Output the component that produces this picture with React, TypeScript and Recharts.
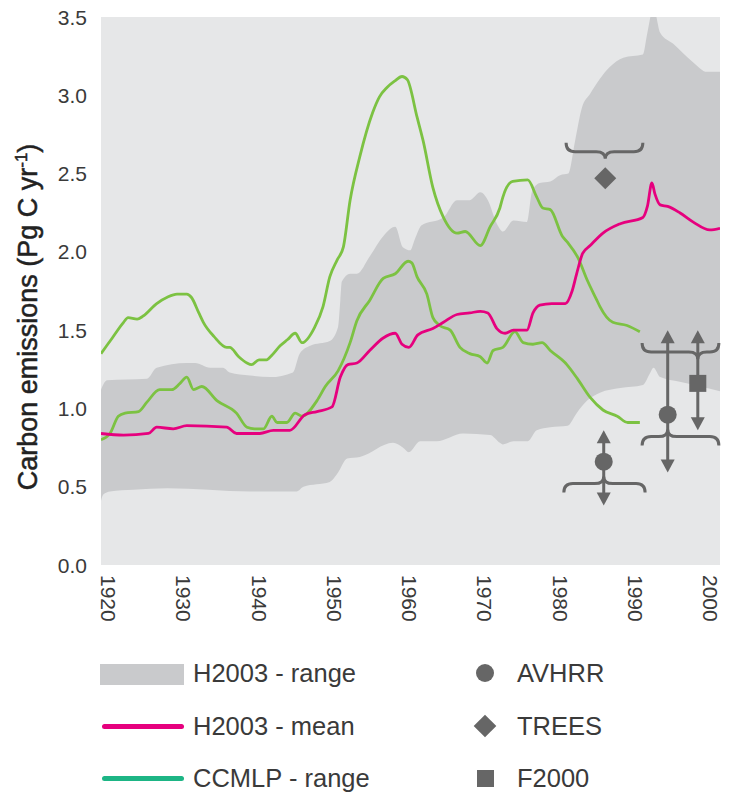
import React from "react";
import {
  ComposedChart,
  Area,
  Line,
  Scatter,
  XAxis,
  YAxis,
  CartesianGrid,
  ReferenceLine,
} from "recharts";

const FONT = '"Liberation Sans", Arial, sans-serif';
const TEXT = "#3a3a3a";
const PLOT_BG = "#e6e7e8";
const BAND = "#c9cacc";
const PINK = "#e6007e";
const GREEN = "#7cc242";
const TEAL = "#1db585";
const MARK = "#666666";

const xTicks = [1920, 1930, 1940, 1950, 1960, 1970, 1980, 1990, 2000];
const yTicks = [0, 0.5, 1, 1.5, 2, 2.5, 3, 3.5];

// H2003 range, upper edge [year, Pg C/yr]
const h2003Upper: [number, number][] = [
  [1920, 1.12], [1920.8, 1.18], [1926.1, 1.19], [1927.4, 1.26], [1931.4, 1.29],
  [1932.5, 1.29], [1934.5, 1.26], [1936.2, 1.26], [1937.1, 1.23], [1939.8, 1.21],
  [1942.5, 1.2], [1945.5, 1.23], [1946.4, 1.35], [1947.8, 1.4], [1950.4, 1.43],
  [1951.5, 1.52], [1951.8, 1.69], [1952, 1.81], [1953.1, 1.86], [1954, 1.86],
  [1955.7, 1.97], [1957.5, 2.1], [1959.1, 2.16], [1960.1, 2.03], [1961.1, 2.01],
  [1961.7, 2.08], [1962.6, 2.17], [1965.5, 2.22], [1967.3, 2.33], [1969, 2.33],
  [1970.4, 2.38], [1971.4, 2.33], [1972.6, 2.18], [1973.4, 2.13], [1974.8, 2.2],
  [1976.6, 2.19], [1977.3, 2.39], [1978.3, 2.44], [1979.7, 2.45], [1981, 2.49],
  [1982.1, 2.5], [1983, 2.71], [1983.9, 2.92], [1985, 3.01], [1987.6, 3.18],
  [1989.4, 3.24], [1992, 3.26], [1992.6, 3.4], [1993.4, 3.56], [1994.3, 3.4],
  [1996, 3.33], [1998.7, 3.21], [2000.5, 3.15], [2002.25, 3.15],
];

// H2003 range, lower edge
const h2003Lower: [number, number][] = [
  [1920, 0.41], [1920.3, 0.45], [1921.2, 0.47], [1924.3, 0.48], [1928.8, 0.49],
  [1939.8, 0.47], [1946, 0.47], [1946.9, 0.5], [1950.4, 0.53], [1951.5, 0.59],
  [1952.7, 0.68], [1954.4, 0.69], [1958.8, 0.78], [1960.1, 0.75], [1960.9, 0.72],
  [1962.4, 0.79], [1964.6, 0.79], [1968.1, 0.84], [1971.7, 0.83], [1973, 0.78],
  [1973.4, 0.77], [1974.8, 0.79], [1976.7, 0.79], [1977.9, 0.86], [1979.7, 0.88],
  [1982, 0.89], [1983.2, 0.97], [1984.6, 1.05], [1986.3, 1.1], [1989, 1.13],
  [1992, 1.15], [1993, 1.23], [1993.4, 1.26], [1994.3, 1.2], [1996.9, 1.17],
  [1999.6, 1.14], [2002.25, 1.11],
];

// H2003 mean
const h2003Mean: [number, number][] = [
  [1920, 0.84], [1923, 0.83], [1926.3, 0.84], [1927.4, 0.88], [1929.6, 0.87],
  [1931.4, 0.89], [1936.7, 0.88], [1938, 0.84], [1941.1, 0.84], [1942.9, 0.86],
  [1945.1, 0.86], [1947.1, 0.96], [1948.7, 0.98], [1950.7, 1.01], [1951.8, 1.2],
  [1952.8, 1.28], [1954, 1.29], [1955.7, 1.37], [1957.5, 1.45], [1959.1, 1.48],
  [1960, 1.41], [1960.9, 1.39], [1962.1, 1.47], [1964.1, 1.51], [1965.5, 1.55],
  [1967.3, 1.6], [1969, 1.61], [1970.4, 1.62], [1971.4, 1.61], [1972.6, 1.51],
  [1973.7, 1.48], [1974.8, 1.5], [1976.6, 1.5], [1977.4, 1.61], [1978.3, 1.66],
  [1979.9, 1.67], [1981.7, 1.67], [1982.6, 1.75], [1983.2, 1.86], [1984, 1.99],
  [1985, 2.04], [1986.7, 2.12], [1989, 2.18], [1992, 2.22], [1992.6, 2.29],
  [1993.2, 2.44], [1993.6, 2.37], [1994.3, 2.3], [1995.3, 2.29], [1996.9, 2.25],
  [1998.7, 2.19], [2000.9, 2.14], [2002.25, 2.15],
];

// CCMLP range, upper model
const ccmlpUpper: [number, number][] = [
  [1920, 1.35], [1921.5, 1.45], [1923, 1.55], [1923.6, 1.58], [1924.8, 1.57],
  [1925.6, 1.59], [1927.4, 1.67], [1928.8, 1.71], [1930.1, 1.73], [1931.4, 1.73],
  [1932, 1.71], [1933, 1.61], [1933.6, 1.55], [1935, 1.46], [1936.7, 1.39],
  [1937.1, 1.39], [1938.3, 1.33], [1939.4, 1.29], [1940, 1.28], [1941, 1.31],
  [1942, 1.31], [1942.7, 1.34], [1943.8, 1.4], [1944.8, 1.44], [1945.8, 1.48],
  [1946.7, 1.42], [1948.4, 1.52], [1949.5, 1.65], [1950.4, 1.84], [1951.4, 1.95],
  [1952.2, 2.03], [1953.1, 2.33], [1954.4, 2.61], [1956.1, 2.89], [1957, 2.99],
  [1958, 3.05], [1959, 3.09], [1960, 3.12], [1960.7, 3.1], [1962, 2.86],
  [1962.8, 2.71], [1964.1, 2.41], [1965.5, 2.22], [1967.3, 2.12], [1968.4, 2.13],
  [1970.4, 2.04], [1971.7, 2.16], [1973, 2.28], [1973.4, 2.35], [1974.7, 2.45],
  [1976.7, 2.46], [1977.9, 2.35], [1978.7, 2.28], [1979.7, 2.27], [1981.3, 2.1],
  [1982, 2.06], [1983.4, 1.96], [1984.6, 1.82], [1985.9, 1.69], [1986.3, 1.65],
  [1988, 1.55], [1989.9, 1.53], [1991.6, 1.49],
];

// CCMLP range, lower model
const ccmlpLower: [number, number][] = [
  [1920, 0.8], [1921.2, 0.84], [1922.3, 0.95], [1923.2, 0.97], [1925, 0.98],
  [1926.1, 1.04], [1927.8, 1.12], [1929.4, 1.12], [1930.5, 1.16], [1931.4, 1.2],
  [1932.3, 1.12], [1933.4, 1.14], [1935.4, 1.05], [1938, 0.97], [1939.4, 0.88],
  [1940.4, 0.87], [1941.6, 0.87], [1942.7, 0.95], [1943.4, 0.91], [1944.7, 0.91],
  [1945.8, 0.97], [1946.7, 0.95], [1948.7, 1.05], [1949.8, 1.14], [1951.5, 1.24],
  [1953.1, 1.42], [1954, 1.56], [1955.7, 1.69], [1957.5, 1.83], [1959.1, 1.86],
  [1960.8, 1.94], [1961.3, 1.93], [1962, 1.84], [1963.3, 1.73], [1964.1, 1.58],
  [1965, 1.53], [1966.4, 1.5], [1967.7, 1.39], [1969, 1.35], [1970.4, 1.33],
  [1971.3, 1.29], [1972.1, 1.37], [1973.4, 1.39], [1975, 1.49], [1976.1, 1.42],
  [1977.4, 1.41], [1978.6, 1.42], [1979.7, 1.37], [1981.9, 1.28], [1983.3, 1.19],
  [1985, 1.07], [1986.7, 0.99], [1988.6, 0.95], [1990, 0.91], [1991.6, 0.91],
];

// point estimates with their uncertainty (lo / hi arrow tips)
const avhrr = [
  { year: 1986.8, v: 0.66, lo: 0.38, hi: 0.86 },
  { year: 1995.3, v: 0.96, lo: 0.59, hi: 1.5 },
];
const trees = [{ year: 1987, v: 2.47 }];
const f2000 = [{ year: 1999.3, v: 1.16, lo: 0.86, hi: 1.5 }];

// period braces: from/to year, level, year the tip points at, dir 1 = tip up
const braces = [
  { from: 1981.5, to: 1992.3, level: 0.52, tip: 1986.8, dir: 1 },
  { from: 1981.8, to: 1992.0, level: 2.64, tip: 1987.0, dir: -1 },
  { from: 1991.9, to: 2002.1, level: 0.82, tip: 1995.3, dir: 1 },
  { from: 1991.9, to: 2002.1, level: 1.36, tip: 1999.3, dir: -1 },
];

const toRows = (pts: [number, number][]) => pts.map(([year, v]) => ({ year, v }));

function Brace(props: any) {
  const { x1, y1, x2, t, dir } = props;
  const y = y1;
  const xt = x1 + (x2 - x1) * t;
  const e = 9 * dir;
  const r = 9;
  const d =
    `M${x1},${y + e} Q${x1},${y} ${x1 + r},${y} L${xt - r},${y} ` +
    `Q${xt},${y} ${xt},${y - e * 0.8} Q${xt},${y} ${xt + r},${y} ` +
    `L${x2 - r},${y} Q${x2},${y} ${x2},${y + e}`;
  return <path d={d} fill="none" stroke={MARK} strokeWidth={3} />;
}

function Arrow(props: any) {
  // x1,y1 = low tip (bottom), x2,y2 = high tip (top)
  const { x1, y1, x2, y2 } = props;
  const hw = 7;
  const hh = 13;
  return (
    <g>
      <line x1={x1} y1={y1 - hh + 1} x2={x2} y2={y2 + hh - 1} stroke={MARK} strokeWidth={3} />
      <path d={`M${x2},${y2} L${x2 - hw},${y2 + hh} L${x2 + hw},${y2 + hh}Z`} fill={MARK} />
      <path d={`M${x1},${y1} L${x1 - hw},${y1 - hh} L${x1 + hw},${y1 - hh}Z`} fill={MARK} />
    </g>
  );
}

const CircleMark = (p: any) => <circle cx={p.cx} cy={p.cy} r={9} fill={MARK} />;
const DiamondMark = (p: any) => (
  <path d={`M${p.cx},${p.cy - 11} L${p.cx + 11},${p.cy} L${p.cx},${p.cy + 11} L${p.cx - 11},${p.cy}Z`} fill={MARK} />
);
const SquareMark = (p: any) => <rect x={p.cx - 8.5} y={p.cy - 8.5} width={17} height={17} fill={MARK} />;

function YTick({ x, y, payload }: any) {
  return (
    <text x={x} y={y} dy="0.36em" textAnchor="end" fontSize={21} fill={TEXT} fontFamily={FONT}>
      {payload.value.toFixed(1)}
    </text>
  );
}

function XTick({ x, y, payload }: any) {
  return (
    <text transform={`translate(${x},${y}) rotate(90)`} fontSize={21} fill={TEXT} fontFamily={FONT}>
      {payload.value}
    </text>
  );
}

function YTitle() {
  return (
    <text
      transform="translate(28,317) rotate(-90)"
      y={9}
      textAnchor="middle"
      fontSize={27}
      fill="#222"
      stroke="#222"
      strokeWidth={0.5}
      fontFamily={FONT}
    >
      Carbon emissions (Pg C yr
      <tspan dy={-10} fontSize={17}>-1</tspan>
      <tspan dy={10}>)</tspan>
    </text>
  );
}

function Legend() {
  const rowY = [673, 726, 778];
  const label = (text: string, left: number, cy: number) => (
    <div
      style={{
        position: "absolute",
        left,
        top: cy - 15,
        height: 30,
        lineHeight: "30px",
        fontSize: 25.5,
        color: TEXT,
        fontFamily: FONT,
        whiteSpace: "nowrap",
      }}
    >
      {text}
    </div>
  );
  return (
    <>
      <div style={{ position: "absolute", left: 100, top: 664, width: 84, height: 21, background: BAND }} />
      {label("H2003 - range", 193, rowY[0])}
      <div style={{ position: "absolute", left: 102, top: rowY[1] - 2.5, width: 82, height: 5, borderRadius: 3, background: PINK }} />
      {label("H2003 - mean", 193, rowY[1])}
      <div style={{ position: "absolute", left: 102, top: rowY[2] - 2.5, width: 82, height: 5, borderRadius: 3, background: TEAL }} />
      {label("CCMLP - range", 193, rowY[2])}

      <div style={{ position: "absolute", left: 476, top: rowY[0] - 9, width: 18, height: 18, borderRadius: 9, background: MARK }} />
      {label("AVHRR", 517, rowY[0])}
      <div style={{ position: "absolute", left: 477, top: rowY[1] - 8, width: 16, height: 16, transform: "rotate(45deg)", background: MARK }} />
      {label("TREES", 517, rowY[1])}
      <div style={{ position: "absolute", left: 477, top: rowY[2] - 8, width: 17, height: 17, background: MARK }} />
      {label("F2000", 517, rowY[2])}
    </>
  );
}

export default function App() {
  return (
    <div style={{ position: "absolute", left: 0, top: 0, width: 736, height: 792, background: "#fff", overflow: "hidden" }}>
      <ComposedChart width={736} height={640} margin={{ top: 17, right: 16, bottom: 0, left: 0 }}>
        <CartesianGrid horizontal={false} vertical={false} fill={PLOT_BG} stroke="none" />
        <XAxis
          type="number"
          dataKey="year"
          domain={[1920, 2002.25]}
          allowDataOverflow
          ticks={xTicks}
          interval={0}
          axisLine={false}
          tickLine={false}
          tickSize={0}
          tickMargin={10}
          height={75}
          tick={<XTick />}
        />
        <YAxis
          type="number"
          domain={[0, 3.5]}
          allowDataOverflow
          ticks={yTicks}
          interval={0}
          axisLine={false}
          tickLine={false}
          tickSize={0}
          tickMargin={14}
          width={101}
          tick={<YTick />}
          label={{ content: () => <YTitle /> }}
        />
        <Area
          data={toRows(h2003Upper)}
          dataKey="v"
          type="monotone"
          stroke="none"
          fill={BAND}
          fillOpacity={1}
          isAnimationActive={false}
        />
        <Area
          data={toRows(h2003Lower)}
          dataKey="v"
          type="monotone"
          stroke="none"
          fill={PLOT_BG}
          fillOpacity={1}
          isAnimationActive={false}
        />
        <Line data={toRows(ccmlpUpper)} dataKey="v" type="monotone" stroke={GREEN} strokeWidth={2.8} dot={false} isAnimationActive={false} />
        <Line data={toRows(ccmlpLower)} dataKey="v" type="monotone" stroke={GREEN} strokeWidth={2.8} dot={false} isAnimationActive={false} />
        <Line data={toRows(h2003Mean)} dataKey="v" type="monotone" stroke={PINK} strokeWidth={2.8} dot={false} isAnimationActive={false} />

        {braces.map((b, i) => (
          <ReferenceLine
            key={`brace-${i}`}
            segment={[{ x: b.from, y: b.level }, { x: b.to, y: b.level }]}
            ifOverflow="visible"
            shape={(p: any) => <Brace {...p} t={(b.tip - b.from) / (b.to - b.from)} dir={b.dir} />}
          />
        ))}
        {[...avhrr, ...f2000].map((d, i) => (
          <ReferenceLine
            key={`arrow-${i}`}
            segment={[{ x: d.year, y: d.lo }, { x: d.year, y: d.hi }]}
            ifOverflow="visible"
            shape={(p: any) => <Arrow {...p} />}
          />
        ))}

        <Scatter data={avhrr} dataKey="v" shape={CircleMark} isAnimationActive={false} />
        <Scatter data={trees} dataKey="v" shape={DiamondMark} isAnimationActive={false} />
        <Scatter data={f2000} dataKey="v" shape={SquareMark} isAnimationActive={false} />
      </ComposedChart>
      <Legend />
    </div>
  );
}
